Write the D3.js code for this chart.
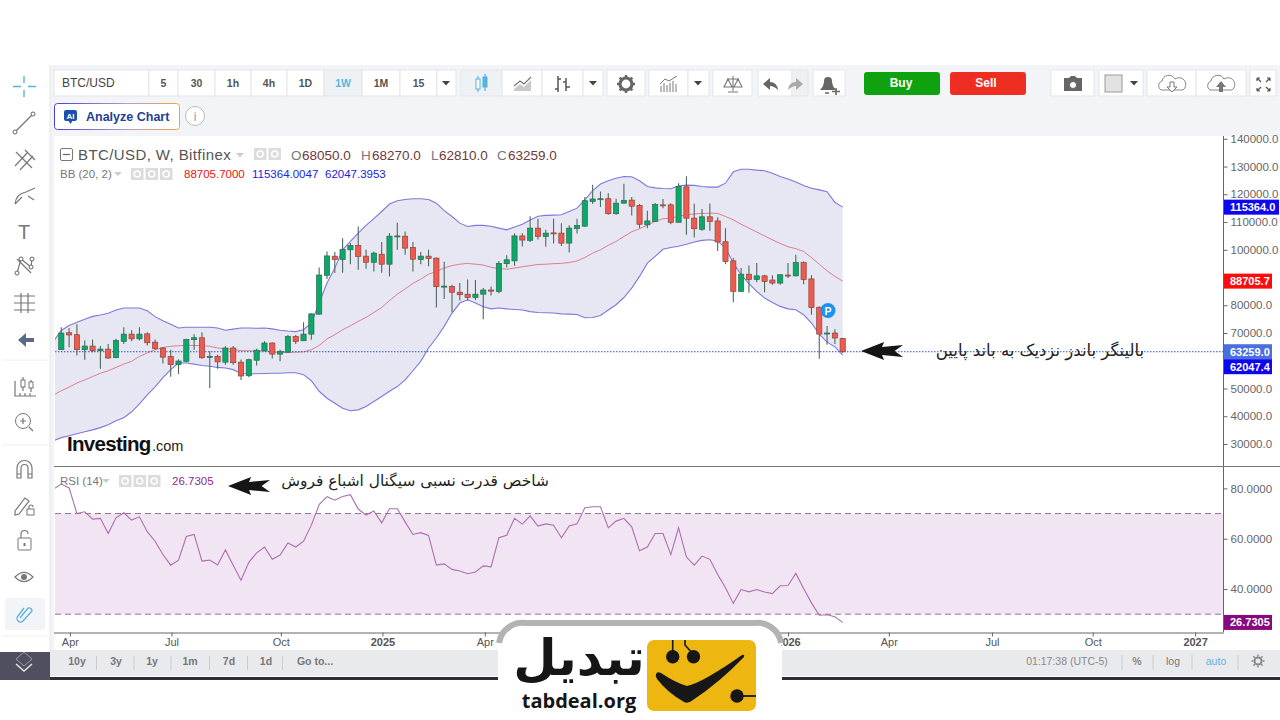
<!DOCTYPE html>
<html><head><meta charset="utf-8">
<script src="https://cdnjs.cloudflare.com/ajax/libs/d3/7.8.5/d3.min.js"></script>
<style>html,body{margin:0;padding:0;background:#fff;overflow:hidden}svg{display:block}text{font-family:"Liberation Sans",Arial,sans-serif}</style>
</head><body><svg id="c" width="1280" height="720" xmlns="http://www.w3.org/2000/svg"></svg>
<script>
const openP=[64000,70100,69400,64000,65300,63600,64200,61100,67000,69600,
67900,69700,66700,64600,61600,58600,59800,67600,68300,61200,
61600,59500,64600,59500,54600,60200,63600,66400,62400,63100,
68700,67200,69600,76800,90800,97700,96500,100000,101600,97700,
95500,98400,94800,104800,104900,100800,96500,97700,97000,86700,
86800,84700,84000,82800,84000,85500,85000,95000,96000,105000,
103400,107800,104800,106100,106000,102400,107600,108500,117400,118100,
118400,113000,116800,117900,116000,109000,110200,116200,116200,109900,
122700,111400,107400,111900,110400,102900,96000,85000,91200,89300,
90600,89100,88000,90900,90600,95400,89500,79300,69700,70000,68050];
const highP=[72100,71800,73200,67300,67700,65300,66000,67900,72100,71000,
72100,70300,67700,65000,64000,60500,67900,69600,70300,63400,
62200,65200,65300,60500,60700,64300,67100,66700,64000,69300,
69300,73900,77100,93600,99400,99200,104200,102400,108400,100000,
99400,102800,106000,109700,106600,102800,99200,100000,97200,95700,
87400,88000,89300,89100,86200,86800,96000,98000,105900,106000,
112100,111200,107200,111200,109600,108800,111200,119000,123400,121000,
120400,118400,123800,119000,116500,114100,116900,118300,116800,124000,
126500,116600,114700,116700,111700,107800,97000,93400,94300,95200,
91000,90800,91200,95200,98200,95800,90800,79600,72500,71400,68270];
const lowP=[64000,64900,61900,60400,63100,57100,60600,61000,66000,67000,
67300,65500,64000,59000,54200,55200,59500,64000,60700,50200,
57100,58600,58600,53100,54100,58300,63400,60800,59800,62800,
66000,67200,67600,76600,89500,91600,91700,94800,92800,93200,
92200,91700,90400,100000,98200,92200,94800,94100,79200,82300,
77500,81700,81700,81900,75000,83500,84300,93600,94200,101200,
102800,103700,101100,102300,101400,99000,105900,108300,116500,115400,
112600,112600,116600,112400,107800,107800,110000,115000,109200,109900,
105400,104400,106900,106900,99600,94800,81100,85000,84500,88300,
84700,87400,87400,89800,90400,87600,76600,60700,65800,66000,62810];
const closeP=[70000,69300,64000,65300,63600,64200,61000,67300,69600,67900,
69600,66500,64400,61300,58600,59900,67700,68300,61100,61600,
59600,64600,59300,54500,60400,63800,66400,62400,63400,68800,
67000,69600,76900,90900,97800,96500,100100,101600,97600,95500,
98800,94800,104900,105000,100600,96600,97700,96900,86700,86900,
84700,83800,82800,84000,85500,85100,95100,96400,105000,103500,
107800,104800,106000,105900,102400,107800,108800,117700,118300,118400,
113000,116800,117800,115700,109200,110400,116300,116000,109900,122800,
111400,107600,111900,110200,102800,95800,85000,91200,89300,90600,
88600,88000,91000,90600,95400,89300,79200,69600,70000,68200,63259];
// Indicator series start one week before the first visible candle (week -1).
const bbUpper=[67000,70900,72700,73900,75000,76000,76500,77100,78300,79000,79000,
79000,78000,75900,74400,73200,71800,72100,72100,72100,72100,
71800,71000,71400,71800,71800,71700,71800,71500,71000,70700,
70500,71200,73600,80800,88000,93400,100000,103000,106000,108800,
111200,113800,116500,117700,118100,118400,118400,118100,116800,114100,
112000,109600,108400,108800,108800,108500,107800,107200,108200,109200,
110700,112100,112400,112500,112600,113800,115000,118000,121300,123700,
124900,125800,126400,126300,124900,122800,122300,122100,122000,123100,
123300,123200,122800,122600,122600,124000,128100,129000,129000,128700,
128500,127600,126400,125500,124400,123200,122200,121600,120900,117100,115364];
const bbMiddle=[47700,49200,50500,52000,53100,54300,55500,56400,57600,58800,59800,
61600,62800,64000,64800,65200,65400,65600,65500,65500,65200,
64600,64300,64100,63600,63600,63500,63600,63200,63000,63000,
63100,63200,64000,65500,67900,69400,71200,72600,74200,75600,
77400,79200,81700,84000,85900,87900,89400,91200,92200,93400,
94300,94800,95100,94800,94500,93700,93200,93000,93400,93900,
94300,94700,94800,95000,95100,95400,96000,97200,98800,100000,
101600,103000,104800,106500,107600,108900,110200,111200,111400,112100,
112600,112900,113100,113200,113100,112000,110800,109200,107800,106400,
105000,103600,102300,101100,100400,99400,97200,94800,92400,90400,88705.7];
const bbLower=[31200,32300,33000,33700,34400,35100,35900,36900,38400,39500,41600,
44500,47700,50600,53900,56800,59200,59200,58800,58300,58000,
57600,57400,56800,55400,55300,55300,55400,55500,55500,55700,
55700,55000,52800,49000,46500,44700,42900,42000,42300,43500,
45300,47100,49000,50700,53100,56400,59800,64600,68200,72400,
77200,80800,82000,80800,79500,78700,79000,78700,78500,78300,
77700,77400,77300,77200,76900,76800,76700,75500,75600,76300,
78300,80200,82800,86200,90400,95200,97600,100200,100800,101300,
102000,102800,103400,103600,103200,100600,95200,91000,87800,85000,
82600,81000,79600,78700,78400,76600,73600,69600,66700,65000,62047.4];
const rsiValues=[79.7,81.7,80.2,70.0,70.7,67.8,68.1,62.1,68.3,70.3,67.4,
68.7,62.8,59.0,53.7,49.5,51.5,60.9,61.7,51.1,51.5,
49.6,55.5,49.5,43.5,50.6,54.4,56.7,51.8,53.5,58.3,
56.7,59.0,65.4,73.6,76.7,75.3,76.8,77.5,71.8,69.4,
71.0,66.3,71.9,71.9,66.7,61.7,62.4,61.3,49.5,50.0,
47.8,47.2,46.1,46.8,49.2,48.8,60.4,61.4,68.1,65.8,
69.1,65.0,65.9,65.4,60.4,65.1,65.9,72.3,72.7,72.7,
64.3,67.0,68.1,64.7,55.2,56.7,62.1,62.1,53.7,64.3,
52.7,49.5,53.1,51.8,45.8,40.5,34.3,39.8,38.9,39.8,
38.8,38.2,41.3,41.4,46.2,40.2,34.5,29.6,29.8,29.0,26.7305];
const priceTicks=[30000,40000,50000,70000,80000,100000,110000,120000,130000,140000];
const rsiTicks=[40,60,80];
const xTickWeeks=[1.1,14.1,28.1,41.1,54.2,93,105.9,119.1,132,145.1];
const xTickLabels=["Apr","Jul","Oct","2025","Apr","2026","Apr","Jul","Oct","2027"];
const periodLabels=["5","30","1h","4h","1D","1W","1M","15"];
const rangeLabels=["10y","3y","1y","1m","7d","1d","Go to..."];

const svg=d3.select("#c");
const W=1280,paneL=55,paneR=1223;
const x=d3.scaleLinear().domain([0,100]).range([61.3,842.7]);
const y=d3.scaleLinear().domain([30000,140000]).range([444,138.8]);
const yR=d3.scaleLinear().domain([30,80]).range([614.2,488.4]);
const T=(g,px,py,s,o={})=>g.append("text").attr("x",px).attr("y",py).text(s)
  .attr("font-size",o.size||11).attr("fill",o.fill||"#666").attr("text-anchor",o.anchor||"start")
  .attr("font-weight",o.weight||"normal").style("font-family",o.family||null);
const R=(g,a,b,w,h,fill,o={})=>g.append("rect").attr("x",a).attr("y",b).attr("width",w).attr("height",h)
  .attr("fill",fill).attr("stroke",o.stroke||"none").attr("rx",o.rx||0);
const P=(g,d,o={})=>g.append("path").attr("d",d).attr("fill",o.fill||"none").attr("stroke",o.stroke||(o.fill?"none":"#777"))
  .attr("stroke-width",o.sw||1.2).attr("stroke-dasharray",o.dash||null);

// page frame
R(svg,50,65,1230,71,"#f2f4f7");
R(svg,50,136,4,514,"#f2f4f7");
R(svg,paneL-1,136,W-paneL+1,514,"#fff");
R(svg,50,650,1230,26,"#e9eaed");
R(svg,50,677,1230,3,"#2e2e34");
R(svg,0,652,50,28,"#4f4f60");
P(svg,"M24 652 L32 659 L24 666 L16 659 Z",{stroke:"#9a9aa8",sw:1});
P(svg,"M16 664 L24 671 L32 664",{stroke:"#e6e6e6",sw:1.5});
svg.append("line").attr("x1",50).attr("x2",50).attr("y1",65).attr("y2",650).attr("stroke","#e4e6ea");

// left toolbar
const lt=svg.append("g");
[360,445,636].forEach(v=>lt.append("line").attr("x1",2).attr("x2",48).attr("y1",v).attr("y2",v).attr("stroke","#eee"));
P(lt,"M24 76 V83 M24 90 V97 M13 86.5 H21 M28 86.5 H36",{stroke:"#55b4dc",sw:1.4});
P(lt,"M16 131 L32 115");lt.append("circle").attr("cx",15).attr("cy",132).attr("r",2).attr("fill","#fff").attr("stroke","#666");lt.append("circle").attr("cx",33).attr("cy",114).attr("r",2).attr("fill","#fff").attr("stroke","#666");
P(lt,"M15 166 L28 152 M20 170 L33 156 M16 152 L32 168 M25 150 L35 160");
P(lt,"M15 204 Q16 194 26 192 L35 188 M22 197 L15 204 M28 196 L34 200");
T(lt,24,239,"T",{anchor:"middle",size:20,fill:"#777"});
P(lt,"M17 273 L21 259 L31 267 L32 259 M17 259 L31 273");[[17,273],[21,259],[31,267],[32,259]].forEach(p=>lt.append("circle").attr("cx",p[0]).attr("cy",p[1]).attr("r",2).attr("fill","#fff").attr("stroke","#666"));
P(lt,"M14 296 H35 M14 303 H35 M14 310 H35 M21 293 V313 M28 293 V313");
P(lt,"M34 340 H23",{stroke:"#5a6b85",sw:4});P(lt,"M18 340 L26 333 V347 Z",{fill:"#5a6b85"});
P(lt,"M15 381 V396 H36 M15 396 V391 M20 396 V393 M25 396 V393 M30 396 V393");
P(lt,"M23 377 V391 M31 380 V392");R(lt,21,380,4,7,"#fff",{stroke:"#777"});R(lt,29,382,4,6,"#fff",{stroke:"#777"});
lt.append("circle").attr("cx",23).attr("cy",421).attr("r",7.5).attr("fill","none").attr("stroke","#777");P(lt,"M29 427 L33 431 M23 418 V424 M20 421 H26");
P(lt,"M17 478 V468 A7.5 7.5 0 0 1 32 468 V478 H28 V468 A3.5 3.5 0 0 0 21 468 V478 Z M17 474 H21 M28 474 H32");
P(lt,"M15 511 L25 498 L29 501 L19 514 L15 515 Z");R(lt,27,509,7,6,"#fff",{stroke:"#777"});P(lt,"M29 509 V507 A2 2 0 0 1 33 507");
R(lt,18,538,13,12,"#fff",{stroke:"#777",rx:1});P(lt,"M21 538 V534 A3.5 3.5 0 0 1 28 534");P(lt,"M24.5 543 V546",{sw:2});
P(lt,"M15 577 Q24 568 33 577 Q24 586 15 577 Z");lt.append("circle").attr("cx",24).attr("cy",577).attr("r",3).attr("fill","#777");
R(lt,5,598,40,32,"#f2f4f7",{rx:2});
P(lt,"M20 618 L28 608 A3 3 0 0 1 32 611 L23 621 A3 3 0 0 1 18 616 L24 608",{stroke:"#55b4dc",sw:1.3});

// top toolbar
const tb=svg.append("g");
const btn=(a,b,fill)=>R(tb,a,70,b-a,26,fill||"#fff",{stroke:"#e3e5e9"});
btn(54,149);T(tb,62,87,"BTC/USD",{size:12,fill:"#444"});
const periodEdges=[149,178,215,251,287,324,362,400,437];
periodLabels.forEach((s,i)=>{const a=periodEdges[i],b=periodEdges[i+1];btn(a,b,s==="1W"?"#eef2f5":"#fff");
  T(tb,(a+b)/2,87,s,{anchor:"middle",size:10.5,weight:"bold",fill:s==="1W"?"#5db5dd":"#555"});});
const caret=(g,cx,cy)=>P(g,`M${cx-4} ${cy-2} H${cx+4} L${cx} ${cy+2.5} Z`,{fill:"#444"});
btn(437,456);caret(tb,446,83);
btn(461,502,"#eef2f5");btn(502,542);btn(542,583);btn(583,603);caret(tb,593,83);
P(tb,"M478 76 V92 M485 74 V91",{stroke:"#55b4dc"});R(tb,476,79,4,10,"#fff",{stroke:"#55b4dc"});R(tb,483,77,4,10,"#55b4dc",{stroke:"#55b4dc"});
P(tb,"M514 89 L520 84 L524 87 L531 80 V91 H514 Z",{fill:"#c9c9c9"});P(tb,"M514 86 L520 81 L524 84 L531 77",{stroke:"#777"});
P(tb,"M558 76 V92 M555 89 H558 M558 79 H561 M566 78 V91 M563 82 H566 M566 87 H570",{stroke:"#555",sw:1.5});
btn(607,645);tb.append("circle").attr("cx",626).attr("cy",84).attr("r",6).attr("fill","none").attr("stroke","#666").attr("stroke-width",3.2);
d3.range(8).forEach(i=>{const a=i*Math.PI/4;tb.append("line").attr("x1",626+6*Math.cos(a)).attr("y1",84+6*Math.sin(a)).attr("x2",626+9*Math.cos(a)).attr("y2",84+9*Math.sin(a)).attr("stroke","#666").attr("stroke-width",2.5);});
btn(649,688);btn(688,709);caret(tb,698,83);
P(tb,"M661 92 V86 M664 92 V83 M667 92 V85 M670 92 V83 M673 92 V81 M676 92 V84 M660 84 L665 79 L669 81 L677 76",{stroke:"#777",sw:1});
btn(713,752);P(tb,"M733 76 V91 M727 79 H739 M728 79 L724 87 H732 Z M738 79 L734 87 H742 Z M728 92 H738",{stroke:"#777",sw:1.1});
btn(758,792);btn(792,808,"#eef0f3");
P(tb,"M763 84 L770 78 V82 Q777 82 778 90 Q774 86 770 86 V90 Z",{fill:"#666"});
P(tb,"M803 84 L796 78 V82 Q789 82 788 90 Q792 86 796 86 V90 Z",{fill:"#aaa"});
btn(813,845);P(tb,"M826 90 H820 Q824 86 824 81 A4 4 0 0 1 832 81 Q832 86 836 90 Z",{fill:"#666"});P(tb,"M836 88 V95 M832 91.5 H840 M825 93 H829",{stroke:"#666",sw:1.6});
R(tb,864,72,76,23,"#0ea30e",{rx:3});T(tb,901,87,"Buy",{anchor:"middle",size:12,weight:"bold",fill:"#fff"});
R(tb,950,72,76,23,"#ef2e22",{rx:3});T(tb,986,87,"Sell",{anchor:"middle",size:12,weight:"bold",fill:"#fff"});
btn(1051,1094);P(tb,"M1064 78 H1069 L1071 76 H1075 L1077 78 H1082 V91 H1064 Z",{fill:"#666"});tb.append("circle").attr("cx",1073).attr("cy",85).attr("r",3.5).attr("fill","#fff").attr("stroke","#666");
btn(1099,1143);R(tb,1105,75,17,17,"#e2e2e2",{stroke:"#999"});caret(tb,1134,83);
btn(1147,1196);btn(1196,1246);
const cloud=(cx)=>`M${cx-11} 90 A5 5 0 0 1 ${cx-10} 81 A7 7 0 0 1 ${cx+3} 79 A6 6 0 0 1 ${cx+11} 90 Z`;
P(tb,cloud(1172),{stroke:"#888",sw:1});P(tb,"M1170 82 H1174 V87 H1177 L1172 92 L1167 87 H1170 Z",{fill:"#fff",stroke:"#777",sw:1});
P(tb,cloud(1221),{stroke:"#888",sw:1});P(tb,"M1219 92 H1223 V87 H1226 L1221 81 L1216 87 H1219 Z",{fill:"#777"});
btn(1250,1276);P(tb,"M1257 78 L1261 82 M1257 78 H1260 M1257 78 V81 M1270 78 L1266 82 M1270 78 H1267 M1270 78 V81 M1257 91 L1261 87 M1257 91 H1260 M1257 91 V88 M1270 91 L1266 87 M1270 91 H1267 M1270 91 V88",{stroke:"#555",sw:1.2});
// analyze chart
const an=svg.append("g");
const grad=svg.append("defs").append("linearGradient").attr("id","ag");
grad.append("stop").attr("offset","0").attr("stop-color","#4b3fd0");grad.append("stop").attr("offset","0.6").attr("stop-color","#b7a0c0");grad.append("stop").attr("offset","1").attr("stop-color","#f2a33a");
R(an,54.5,103.5,125,26,"#fff",{stroke:"url(#ag)",rx:3});
R(an,64,110,13,11,"#1c4fb0",{rx:2});P(an,"M68 120 L70.5 124 L73 120 Z",{fill:"#1c4fb0"});T(an,70.5,119,"AI",{anchor:"middle",size:8,weight:"bold",fill:"#fff"});
T(an,86,121,"Analyze Chart",{size:12.5,weight:"bold",fill:"#1e3f94"});
an.append("circle").attr("cx",195).attr("cy",116).attr("r",9.5).attr("fill","#fff").attr("stroke","#bbb");
T(an,195,120.5,"i",{anchor:"middle",size:12,fill:"#999"});

// panes
svg.append("defs").append("clipPath").attr("id","pane").append("rect").attr("x",paneL).attr("y",137).attr("width",paneR-paneL).attr("height",328);
const pane=svg.append("g").attr("clip-path","url(#pane)");
const wk=(i)=>x(i-1);
pane.append("path").attr("d",d3.area().x((d,i)=>wk(i)).y0((d,i)=>y(bbLower[i])).y1(d=>y(d))(bbUpper)).attr("fill","#e6e7f3");
const ln=(sc)=>d3.line().x((d,i)=>wk(i)).y(d=>sc(d));
pane.append("path").attr("d",ln(y)(bbMiddle)).attr("fill","none").attr("stroke","#dd7f8c").attr("stroke-width",1);
[bbUpper,bbLower].forEach(s=>pane.append("path").attr("d",ln(y)(s)).attr("fill","none").attr("stroke","#7d78dd").attr("stroke-width",1.1));
pane.append("line").attr("x1",paneL).attr("x2",paneR).attr("y1",y(63259)).attr("y2",y(63259)).attr("stroke","#2f55c0").attr("stroke-width",1).attr("stroke-dasharray","1.5 1.5");
const candles=pane.append("g").selectAll("g").data(openP.map((o,i)=>({i,o,h:highP[i],l:lowP[i],c:closeP[i]}))).join("g");
candles.append("line").attr("x1",d=>x(d.i)).attr("x2",d=>x(d.i)).attr("y1",d=>y(d.h)).attr("y2",d=>y(d.l)).attr("stroke","#4b6a5c").attr("stroke-width",1.1);
candles.append("rect").attr("x",d=>x(d.i)-2.6).attr("width",5.2)
  .attr("y",d=>y(Math.max(d.o,d.c))).attr("height",d=>Math.max(1,Math.abs(y(d.o)-y(d.c))))
  .attr("fill",d=>d.c>=d.o?"#0aa869":"#ee5a50").attr("stroke",d=>d.c>=d.o?"#2d6a50":"#8c4438").attr("stroke-width",0.7);
// P marker
pane.append("circle").attr("cx",828).attr("cy",310.5).attr("r",7.5).attr("fill","#1b93ee");
T(pane,828,314.5,"P",{anchor:"middle",size:10.5,weight:"bold",fill:"#fff"});
// Investing logo
T(pane,67,451,"Investing",{size:20.5,weight:"bold",fill:"#111"}).attr("letter-spacing",-0.7);
T(pane,152,451,".com",{size:14.5,fill:"#222"});

// headers
const h=svg.append("g");
R(h,60.5,148.5,12,12,"#fff",{stroke:"#777",rx:1.5});P(h,"M63 154.5 H70",{stroke:"#666"});
T(h,78,160,"BTC/USD, W, Bitfinex",{size:15,fill:"#555"}).attr("letter-spacing",0.4);
P(h,"M236 153 H244 L240 157.5 Z",{fill:"#ccc"});
const ctrl=(a,b,n)=>{d3.range(n).forEach(i=>{R(h,a+i*14.5,b,12.5,12,"#dcdcdc");
  h.append("circle").attr("cx",a+i*14.5+6.2).attr("cy",b+6).attr("r",3).attr("fill","none").attr("stroke","#fff").attr("stroke-width",1.6);});};
ctrl(254,148,2);
[["O","68050.0",291,302],["H","68270.0",361,372],["L","62810.0",431,439],["C","63259.0",497,508]].forEach(d=>{
  T(h,d[2],160,d[0],{size:13.5,fill:"#777"});T(h,d[3],160,d[1],{size:13.5,fill:"#6e3a3a"});});
T(h,60,178,"BB (20, 2)",{size:11.5,fill:"#777"});P(h,"M114 172 H122 L118 176 Z",{fill:"#ccc"});
ctrl(131,168,3);
T(h,184,178,"88705.7000",{size:11.5,fill:"#ee1111"});
T(h,252,178,"115364.0047",{size:11.5,fill:"#1a22dd"});
T(h,325,178,"62047.3953",{size:11.5,fill:"#1a22dd"});

// RSI pane
svg.append("defs").append("clipPath").attr("id","rsiPane").append("rect").attr("x",paneL).attr("y",467).attr("width",paneR-paneL).attr("height",165);
const rp=svg.append("g").attr("clip-path","url(#rsiPane)");
rp.append("rect").attr("x",paneL).attr("width",paneR-paneL).attr("y",yR(70)).attr("height",yR(30)-yR(70)).attr("fill","#f1e4f3");
[70,30].forEach(v=>rp.append("line").attr("x1",paneL).attr("x2",paneR).attr("y1",yR(v)).attr("y2",yR(v)).attr("stroke","#8a7a8a").attr("stroke-dasharray","6 4"));
rp.append("path").attr("d",ln(yR)(rsiValues)).attr("fill","none").attr("stroke","#ad6fae").attr("stroke-width",1.1);
T(svg,60,485,"RSI (14)",{size:11.5,fill:"#777"});P(svg,"M102 479 H110 L106 483 Z",{fill:"#ccc"});
ctrl(119,475,3);
T(svg,172,485,"26.7305",{size:11.5,fill:"#8e2a8e"});

// axes
svg.append("line").attr("x1",paneR+.5).attr("x2",paneR+.5).attr("y1",136).attr("y2",632).attr("stroke","#666");
svg.append("line").attr("x1",paneL-1).attr("x2",W).attr("y1",466.5).attr("y2",466.5).attr("stroke","#777");
const yAx=d3.axisRight(y).tickValues(priceTicks).tickSize(4).tickPadding(3).tickFormat(d3.format(".1f"));
const yG=svg.append("g").attr("transform",`translate(${paneR+.5},0)`).call(yAx);
const rAx=d3.axisRight(yR).tickValues(rsiTicks).tickSize(4).tickPadding(3).tickFormat(d3.format(".4f"));
const rG=svg.append("g").attr("transform",`translate(${paneR+.5},0)`).call(rAx);
[yG,rG].forEach(g=>{g.select(".domain").remove();g.selectAll("line").attr("stroke","#666");
  g.selectAll("text").attr("fill","#666").attr("font-size",11.5).style("font-family",'"Liberation Sans"');});
const xAx=d3.axisBottom(x).tickValues(xTickWeeks).tickSize(4).tickPadding(2).tickFormat((d,i)=>xTickLabels[i]);
const xG=svg.append("g").attr("transform","translate(0,632.5)").call(xAx);
xG.select(".domain").attr("d",`M${paneL-1} 0.5 H${paneR+1}`).attr("stroke","#666");
xG.selectAll("line").attr("stroke","#666");
xG.selectAll("text").attr("fill","#555").attr("font-size",11).attr("font-weight",(d,i)=>/^\d/.test(xTickLabels[i])?"bold":"normal").style("font-family",'"Liberation Sans"');

// value tags (the two lowest tags are stacked so they do not collide)
const tag=(v,s,fill,sc,w,dy=0)=>{const g=svg.append("g");R(g,paneR+1,sc(v)+dy-7.5,w,15,fill);
  T(g,paneR+7,sc(v)+dy+4,s,{size:11,weight:"bold",fill:"#fff"});};
tag(115364,"115364.0","#0f06f0",y,55);
tag(88705.7,"88705.7","#fb0d0d",y,48);
tag(63259,"63259.0","#4a6fe0",y,48);
tag(62047.4,"62047.4","#0f06f0",y,48,11.6);
tag(26.7305,"26.7305","#87087f",yR,48);

// bottom bar
const bb=svg.append("g");
const rangeX=[77,116,152,190,229,266,315];
rangeLabels.forEach((s,i)=>{T(bb,rangeX[i],665,s,{anchor:"middle",size:10.5,fill:"#777",weight:"bold"});
  if(i<6) bb.append("line").attr("x1",(rangeX[i]+rangeX[i+1])/2+(i==5?-8:0)).attr("x2",(rangeX[i]+rangeX[i+1])/2+(i==5?-8:0)).attr("y1",656).attr("y2",670).attr("stroke","#ccc");});
T(bb,1067,665,"01:17:38 (UTC-5)",{anchor:"middle",size:10.5,fill:"#888"});
T(bb,1137,665,"%",{anchor:"middle",size:10.5,fill:"#888",weight:"bold"});
T(bb,1173,665,"log",{anchor:"middle",size:10.5,fill:"#777"});
T(bb,1216,665,"auto",{anchor:"middle",size:10.5,fill:"#5db5dd"});
[1122,1153,1192,1238].forEach(v=>bb.append("line").attr("x1",v).attr("x2",v).attr("y1",655).attr("y2",670).attr("stroke","#ccc"));
bb.append("circle").attr("cx",1258).attr("cy",661).attr("r",3.5).attr("fill","none").attr("stroke","#888").attr("stroke-width",2);
d3.range(8).forEach(i=>{const a=i*Math.PI/4;bb.append("line").attr("x1",1258+4.5*Math.cos(a)).attr("y1",661+4.5*Math.sin(a)).attr("x2",1258+6.5*Math.cos(a)).attr("y2",661+6.5*Math.sin(a)).attr("stroke","#888").attr("stroke-width",1.5);});

// Persian annotations and arrows
const dart=(g,tx,ty,len)=>P(g,`M${tx} ${ty} L${tx+len*.55} ${ty-9} L${tx+len*.5} ${ty-4} L${tx+len} ${ty-6} L${tx+len*.8} ${ty} L${tx+len} ${ty+6} L${tx+len*.5} ${ty+4} L${tx+len*.55} ${ty+9} Z`,{fill:"#151515"});
dart(svg,861,351,42);
dart(svg,228,486,42);
const fa=(px,py,s,size)=>T(svg,px,py,s,{anchor:"middle",size,fill:"#222",family:'"DejaVu Sans"'}).style("direction","rtl");
fa(1040,356,"بالینگر باندز نزدیک به باند پایین",16.5);
fa(415,486,"شاخص قدرت نسبی سیگنال اشباع فروش",15.4);

// tabdeal logo
const lg=svg.append("g");
lg.append("path").attr("d","M498 720 V651 A28 28 0 0 1 526 623 H754 A28 28 0 0 1 782 651 V720 Z").attr("fill","#fff");
lg.append("path").attr("d","M499 643 A24 24 0 0 1 526 623 H754 A24 24 0 0 1 781 643").attr("fill","none").attr("stroke","#b3b3b3").attr("stroke-width",6);
R(lg,647,640,109,71,"#edb611",{rx:7});
P(lg,"M672.7 640 V656 M685 640 V645 L693 654",{stroke:"#171717",sw:1.6});
lg.append("circle").attr("cx",672.7).attr("cy",656.7).attr("r",6.7).attr("fill","#171717");
lg.append("circle").attr("cx",693.5).attr("cy",656.7).attr("r",6.7).attr("fill","#171717");
P(lg,"M656 674 Q657 671 661 673 Q676 683 687 686 Q702 683 742 655 Q745 654 744 657 Q720 682 693 700 Q688 704 684 702 Q668 693 657 679 Q655 676 656 674 Z",{fill:"#171717"});
lg.append("circle").attr("cx",737).attr("cy",696).attr("r",6.7).attr("fill","#171717");
P(lg,"M737 696 H756",{stroke:"#171717",sw:1.8});
T(lg,579,675,"تبدیل",{anchor:"middle",size:50,weight:"bold",fill:"#161616",family:'"DejaVu Sans"'});
T(lg,579,708,"tabdeal.org",{anchor:"middle",size:20,weight:"bold",fill:"#161616",family:'"Open Sans"'});
</script></body></html>
